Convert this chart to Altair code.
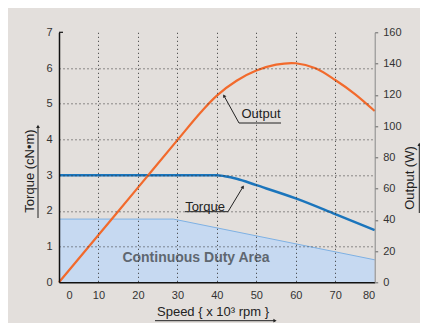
import altair as alt
import pandas as pd

# ---- data ----
speed_out = [0, 10, 20, 30, 36, 40, 45, 50, 55, 60, 65, 70, 75, 80]
output_w = [0, 30.3, 60.6, 91, 109, 119.5, 129, 135.5, 139.3, 140.2, 137, 129.5, 120.5, 109.6]

speed_tq = [0, 40, 42, 45, 50, 60, 70, 80]
torque_cnm = [3.0, 3.0, 2.97, 2.9, 2.72, 2.35, 1.91, 1.46]

speed_area = [0, 29, 80]
area_cnm = [1.77, 1.77, 0.63]

x_ticks = [0, 10, 20, 30, 40, 50, 60, 70, 80]
left_ticks = [0, 1, 2, 3, 4, 5, 6, 7]
right_ticks = [0, 20, 40, 60, 80, 100, 120, 140, 160]

df_out = pd.DataFrame({"speed": speed_out, "output": output_w})
df_tq = pd.DataFrame({"speed": speed_tq, "torque": torque_cnm})
df_area = pd.DataFrame({"speed": speed_area, "torque": area_cnm})

BG = "#e3dfdc"
FONT = "Liberation Sans"
W, H = 315.7, 250

x_enc = alt.X(
    "speed:Q",
    scale=alt.Scale(domain=[0, 80], nice=False),
    axis=alt.Axis(
        values=x_ticks, title=None, grid=True, gridDash=[1, 3], gridColor="#333",
        gridOpacity={"condition": {"test": "datum.value <= 0 || datum.value >= 80", "value": 0}, "value": 1},
        labelOffset={"condition": {"test": "datum.value <= 0", "value": 7}, "value": 0},
        domainColor="#111", domainWidth=1.5, ticks=False, labelPadding=7,
        labelFontSize=11, labelColor="#333", labelFont=FONT, zindex=1,
    ),
)

left_axis = alt.Axis(
    orient="left", values=left_ticks, title=None, grid=True, gridDash=[1, 3], gridColor="#333",
    gridOpacity={"condition": {"test": "datum.value <= 0 || datum.value >= 7", "value": 0}, "value": 1},
    domainColor="#111", domainWidth=1.5, ticks=False, labelPadding=7,
    labelFontSize=11, labelColor="#333", labelFont=FONT, zindex=1,
)
right_axis = alt.Axis(
    orient="right", values=right_ticks, title=None, grid=False,
    domainColor="#888", domainWidth=1, ticks=True, tickSize=3, tickColor="#666",
    labelPadding=5, labelFontSize=11, labelColor="#333", labelFont=FONT, zindex=1,
)

yl = alt.Scale(domain=[0, 7], nice=False)
yr = alt.Scale(domain=[0, 160], nice=False)

area = alt.Chart(df_area).mark_area(
    color="#c6d9f1", opacity=1, line={"color": "#7fb1e3", "strokeWidth": 1}
).encode(x=x_enc, y=alt.Y("torque:Q", scale=yl, axis=left_axis))

torque = alt.Chart(df_tq).mark_line(color="#1b75bc", strokeWidth=2.5, interpolate="monotone").encode(
    x=x_enc, y=alt.Y("torque:Q", scale=yl, axis=left_axis)
)

output = alt.Chart(df_out).mark_line(color="#f26a2c", strokeWidth=2.2, interpolate="catmull-rom").encode(
    x=x_enc, y=alt.Y("output:Q", scale=yr, axis=right_axis)
)

one = alt.Data(values=[{}])


def txt(s, x, y, size=13, angle=0, color="#222", weight="normal"):
    return alt.Chart(one).mark_text(
        text=s, font=FONT, fontSize=size, color=color, angle=angle, fontWeight=weight,
        align="center", baseline="middle",
    ).encode(x=alt.value(x), y=alt.value(y))


def line(x1, y1, x2, y2, color="#222", w=1):
    return alt.Chart(one).mark_rule(color=color, strokeWidth=w).encode(
        x=alt.value(x1), y=alt.value(y1), x2=alt.value(x2), y2=alt.value(y2)
    )


def head(x, y, angle, color="#222"):
    return alt.Chart(one).mark_point(
        shape="triangle-up", filled=True, size=14, color=color, opacity=1, angle=angle
    ).encode(x=alt.value(x), y=alt.value(y))


annotations = [
    # small tick at the top of the left axis
    line(0, 0, 4, 0, color="#111", w=1.2),
    # axis titles with arrowed underlines
    txt("Torque (cN•m)", -29, 138.7, angle=270),
    line(-21, 185.7, -21, 94), head(-21, 94, 0),
    txt("Output (W)", 351, 145.7, angle=270),
    line(360.3, 180.7, 360.3, 112), head(360.3, 112, 0),
    txt("Speed { x 10³ rpm }", 154, 279.4),
    line(96, 288.4, 216, 288.4), head(216, 288.4, 90),
    # curve labels
    txt("Output", 202, 81.7),
    line(180, 90.7, 222, 90.7), line(180, 90.7, 165, 63.5), head(165, 63.5, 331),
    txt("Torque", 146, 174.4),
    line(126, 179.4, 169, 179.4), line(169, 179.4, 184, 154.5), head(184, 154.5, 31),
    txt("Continuous Duty Area", 137, 226, size=14, color="#5f6770", weight="bold"),
]

base = alt.layer(area, torque)
chart = alt.layer(base, output, *annotations).resolve_scale(y="independent").properties(
    width=W, height=H, background=BG,
    autosize=alt.AutoSizeParams(type="none"),
    padding={"left": 51, "top": 24.3, "right": 45.3, "bottom": 40.7},
).configure_view(stroke=None)

chart.save("out.html", embed_options={"renderer": "svg", "actions": False})
